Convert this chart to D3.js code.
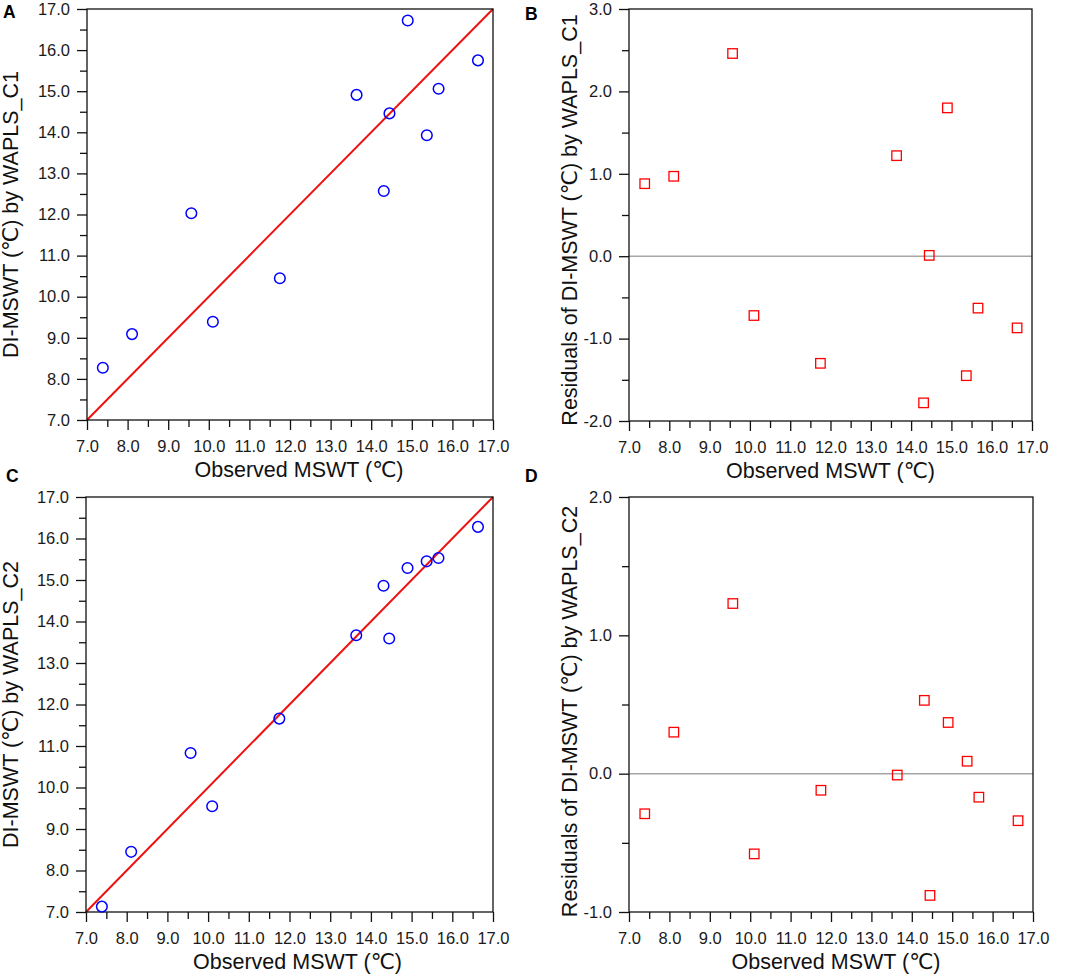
<!DOCTYPE html>
<html>
<head>
<meta charset="utf-8">
<script src="https://cdn.jsdelivr.net/npm/d3@7"></script>
<style>
  html, body { margin: 0; padding: 0; background: #fff; }
  svg { display: block; font-family: "Liberation Sans", Arial, "DejaVu Sans", "Noto Sans CJK SC", sans-serif; }
</style>
</head>
<body>
<svg id="chart" width="1065" height="978"></svg>
<script>
// ---- data ----
const observed = [7.39, 8.11, 9.57, 10.10, 11.75, 13.64, 14.31, 14.45, 14.90, 15.37, 15.66, 16.63];
const predC1   = [8.27, 9.09, 12.03, 9.39, 10.45, 14.91, 12.57, 14.46, 16.72, 13.93, 15.06, 15.75];
const residC1  = [0.88, 0.97, 2.46, -0.72, -1.30, 1.22, -1.78, 0.01, 1.80, -1.45, -0.63, -0.87];
const predC2   = [7.13, 8.45, 10.83, 9.55, 11.66, 13.67, 14.86, 13.59, 15.29, 15.45, 15.53, 16.28];
const residC2  = [-0.29, 0.30, 1.23, -0.58, -0.12, -0.01, 0.53, -0.88, 0.37, 0.09, -0.17, -0.34];

const xDomain = [7, 17];
const xMajorTicks = [7, 8, 9, 10, 11, 12, 13, 14, 15, 16, 17];
const predDomain = [7, 17];
const predMajorTicks = [7, 8, 9, 10, 11, 12, 13, 14, 15, 16, 17];
const residC1Domain = [-2, 3];
const residC1Ticks = [-2, -1, 0, 1, 2, 3];
const residC2Domain = [-1, 2];
const residC2Ticks = [-1, 0, 1, 2];
const oneToOne = [7, 17];

const xTitle = "Observed MSWT (\u2103)";
const panelLabels = ["A", "B", "C", "D"];
const yTitles = [
  "DI-MSWT (\u2103) by WAPLS_C1",
  "Residuals of DI-MSWT (\u2103) by WAPLS_C1",
  "DI-MSWT (\u2103) by WAPLS_C2",
  "Residuals of DI-MSWT (\u2103) by WAPLS_C2"
];

// ---- layout ----
const panels = [
  { label: panelLabels[0], left: 87,  top: 9,   w: 406, h: 411, kind: "fit",   y: predC1,  yDom: predDomain,    yTicks: predMajorTicks, title: yTitles[0], lx: 3,   ly: 18,  tOff: 69, tDx: 9, tDy: 0 },
  { label: panelLabels[1], left: 629, top: 9,   w: 403, h: 412, kind: "resid", y: residC1, yDom: residC1Domain, yTicks: residC1Ticks,   title: yTitles[1], lx: 525, ly: 20,  tOff: 52, tDx: 0, tDy: 5 },
  { label: panelLabels[2], left: 86,  top: 497, w: 407, h: 415, kind: "fit",   y: predC2,  yDom: predDomain,    yTicks: predMajorTicks, title: yTitles[2], lx: 6,   ly: 482, tOff: 68, tDx: 8, tDy: 0 },
  { label: panelLabels[3], left: 629, top: 497, w: 404, h: 415, kind: "resid", y: residC2, yDom: residC2Domain, yTicks: residC2Ticks,   title: yTitles[3], lx: 525, ly: 482, tOff: 52, tDx: 5, tDy: 7 }
];

const svg = d3.select("#chart");
const fmt = d => d.toFixed(1);
const halves = (ticks) => ticks.slice(0, -1).map(t => t + 0.5);

panels.forEach(p => {
  const g = svg.append("g").attr("transform", `translate(${p.left},${p.top})`);
  const x = d3.scaleLinear().domain(xDomain).range([0, p.w]);
  const y = d3.scaleLinear().domain(p.yDom).range([p.h, 0]);

  // minor ticks
  g.append("g").attr("transform", `translate(0,${p.h})`)
    .call(d3.axisBottom(x).tickValues(halves(xMajorTicks)).tickSize(7).tickSizeOuter(0).tickFormat(""))
    .call(a => a.select(".domain").remove())
    .call(a => a.selectAll("line").attr("stroke", "#111").attr("stroke-width", 1.3));
  g.append("g")
    .call(d3.axisLeft(y).tickValues(halves(p.yTicks)).tickSize(7).tickSizeOuter(0).tickFormat(""))
    .call(a => a.select(".domain").remove())
    .call(a => a.selectAll("line").attr("stroke", "#111").attr("stroke-width", 1.3));

  // major ticks + labels
  g.append("g").attr("transform", `translate(0,${p.h})`)
    .call(d3.axisBottom(x).tickValues(xMajorTicks).tickSize(10).tickSizeOuter(0).tickPadding(10).tickFormat(fmt))
    .call(a => a.select(".domain").remove())
    .call(a => a.selectAll("line").attr("stroke", "#111").attr("stroke-width", 1.3))
    .call(a => a.selectAll("text").attr("fill", "#1a1a1a").style("font-size", "16.5px").attr("font-family", null));
  g.append("g")
    .call(d3.axisLeft(y).tickValues(p.yTicks).tickSize(10).tickSizeOuter(0).tickPadding(7).tickFormat(fmt))
    .call(a => a.select(".domain").remove())
    .call(a => a.selectAll("line").attr("stroke", "#111").attr("stroke-width", 1.3))
    .call(a => a.selectAll("text").attr("fill", "#1a1a1a").style("font-size", "16.5px").attr("font-family", null));

  // reference lines
  if (p.kind === "fit") {
    g.append("line")
      .attr("x1", x(oneToOne[0])).attr("y1", y(oneToOne[0]))
      .attr("x2", x(oneToOne[1])).attr("y2", y(oneToOne[1]))
      .attr("stroke", "#ee1111").attr("stroke-width", 2);
  } else {
    g.append("line")
      .attr("x1", 0).attr("x2", p.w)
      .attr("y1", y(0)).attr("y2", y(0))
      .attr("stroke", "#a6a6a6").attr("stroke-width", 1.5);
  }

  // frame
  g.append("rect").attr("x", 0).attr("y", 0).attr("width", p.w).attr("height", p.h)
    .attr("fill", "none").attr("stroke", "#111").attr("stroke-width", 1.3);

  // marks
  const pts = observed.map((o, i) => ({ x: o, y: p.y[i] }));
  if (p.kind === "fit") {
    g.selectAll("circle.pt").data(pts).join("circle").attr("class", "pt")
      .attr("cx", d => x(d.x)).attr("cy", d => y(d.y)).attr("r", 5.3)
      .attr("fill", "none").attr("stroke", "#0000ff").attr("stroke-width", 1.5);
  } else {
    const s = 9.5;
    g.selectAll("rect.pt").data(pts).join("rect").attr("class", "pt")
      .attr("x", d => x(d.x) - s / 2).attr("y", d => y(d.y) - s / 2)
      .attr("width", s).attr("height", s)
      .attr("fill", "none").attr("stroke", "#ff0000").attr("stroke-width", 1.3);
  }

  // axis titles
  g.append("text")
    .attr("x", p.w / 2 + p.tDx).attr("y", p.h + 57)
    .attr("text-anchor", "middle").style("font-size", "21.5px").attr("fill", "#111")
    .text(xTitle);
  g.append("text")
    .attr("transform", `translate(${-p.tOff},${p.h / 2 + p.tDy}) rotate(-90)`)
    .attr("text-anchor", "middle").style("font-size", "21.5px").attr("fill", "#111")
    .text(p.title);

  // panel label
  svg.append("text")
    .attr("x", p.lx).attr("y", p.ly)
    .style("font-size", "17.5px").style("font-weight", "bold").attr("fill", "#000")
    .text(p.label);
});
</script>
</body>
</html>
